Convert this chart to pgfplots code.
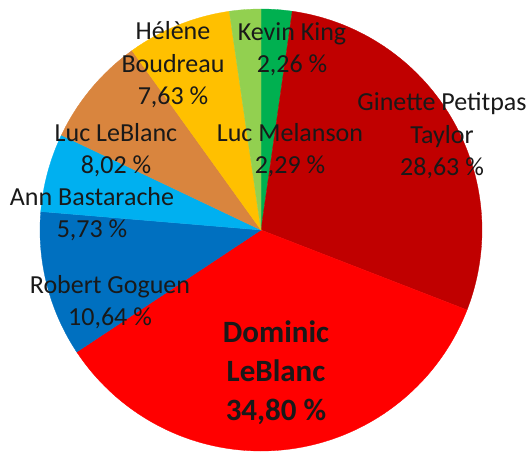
\documentclass[border=0pt]{standalone}
\usepackage{pgfplots}
\pgfplotsset{compat=1.18}
\usepackage{fontspec}
\setmainfont{Carlito}
\definecolor{cKK}{HTML}{00B050}
\definecolor{cGT}{HTML}{C00000}
\definecolor{cDL}{HTML}{FF0000}
\definecolor{cRG}{HTML}{0070C0}
\definecolor{cAB}{HTML}{00B0F0}
\definecolor{cLL}{HTML}{D9853E}
\definecolor{cHB}{HTML}{FFC000}
\definecolor{cLM}{HTML}{92D050}
\tikzset{lbl/.style={align=center, text=black!90, inner sep=0pt, font=\fontsize{26}{32.5}\selectfont},
  lblb/.style={lbl, font=\fontsize{31}{39}\selectfont\bfseries}}
% slice: start (cumulative %), value (%), colour
\newcommand\slice[3]{%
  \addplot[fill=#3, draw=#3, line width=0.3pt, domain={(#1)*3.6}:{(#1+#2)*3.6}, samples=90, variable=\t]
    ({261+221*sin(\t)},{221+221*cos(\t)}) -- (axis cs:261,221) -- cycle;}
\begin{document}
\begin{tikzpicture}
\begin{axis}[
  scale only axis, width=529pt, height=451pt,
  xmin=0, xmax=529, ymin=0, ymax=451,
  hide axis, clip=false,
]
\slice{0}{2.26}{cKK}
\slice{2.26}{28.63}{cGT}
\slice{30.89}{34.80}{cDL}
\slice{65.69}{10.64}{cRG}
\slice{76.33}{5.73}{cAB}
\slice{82.06}{8.02}{cLL}
\slice{90.08}{7.63}{cHB}
\slice{97.71}{2.29}{cLM}
\node[lbl] at (axis cs:173,386) {Hélène\\Boudreau\\7,63 \%};
\node[lbl] at (axis cs:292,402) {Kevin King\\2,26 \%};
\node[lbl] at (axis cs:442,315) {Ginette Petitpas\\Taylor\\28,63 \%};
\node[lbl] at (axis cs:290,301) {Luc Melanson\\2,29 \%};
\node[lbl] at (axis cs:116,301) {Luc LeBlanc\\8,02 \%};
\node[lbl] at (axis cs:92,237) {Ann Bastarache\\5,73 \%};
\node[lbl] at (axis cs:110,149) {Robert Goguen\\10,64 \%};
\node[lblb] at (axis cs:276,78) {Dominic\\LeBlanc\\34,80 \%};
\end{axis}
\pgfresetboundingbox
\path (current axis.south west) rectangle (current axis.north east);
\end{tikzpicture}
\end{document}
